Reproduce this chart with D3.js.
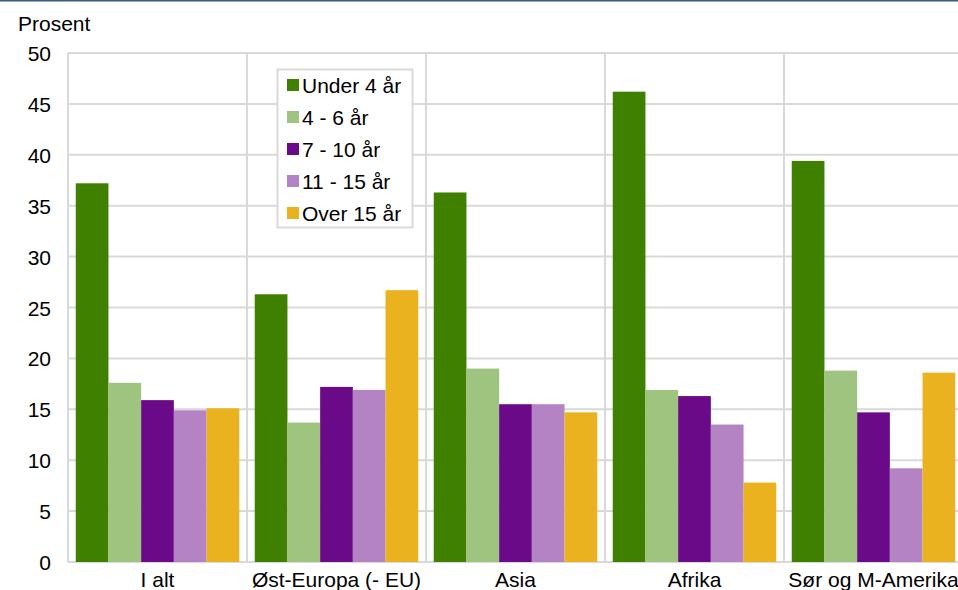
<!DOCTYPE html>
<html>
<head>
<meta charset="utf-8">
<script src="https://cdn.jsdelivr.net/npm/d3@7"></script>
<style>
  html, body { margin: 0; padding: 0; background: #fff; overflow: hidden; }
  svg { display: block; font-family: "Liberation Sans", Arial, sans-serif; }
</style>
</head>
<body>
<script>
const categories = ["I alt", "Øst-Europa (- EU)", "Asia", "Afrika", "Sør og M-Amerika"];
const seriesNames = ["Under 4 år", "4 - 6 år", "7 - 10 år", "11 - 15 år", "Over 15 år"];
const seriesColors = ["#408000", "#9fc480", "#6a0a88", "#b383c3", "#ebb220"];
const under4 = [37.2, 26.3, 36.3, 46.2, 39.4];
const y4to6 = [17.6, 13.7, 19.0, 16.9, 18.8];
const y7to10 = [15.9, 17.2, 15.5, 16.3, 14.7];
const y11to15 = [14.9, 16.9, 15.5, 13.5, 9.2];
const over15 = [15.1, 26.7, 14.7, 7.8, 18.6];
const yTicks = [0, 5, 10, 15, 20, 25, 30, 35, 40, 45, 50];
const yLabel = "Prosent";

const seriesValues = [under4, y4to6, y7to10, y11to15, over15];

const W = 958, H = 590;
const svg = d3.select("body").append("svg").attr("width", W).attr("height", H);

const pLeft = 68, pRight = 963, pTop = 53, pBottom = 562;

const y = d3.scaleLinear().domain([0, 50]).range([pBottom, pTop]);
const x0 = d3.scaleBand().domain(categories).range([pLeft, pRight]).padding(0);
const x1 = d3.scaleBand().domain(seriesNames).range([7.75, x0.bandwidth() - 7.75]).padding(0);

// top rule
svg.append("line").attr("x1", 0).attr("x2", W).attr("y1", 0.7).attr("y2", 0.7)
  .attr("stroke", "#3b5a8a").attr("stroke-width", 1.5);

const gridColor = "#d9d9d9";
// horizontal gridlines
svg.append("g").selectAll("line").data(yTicks).join("line")
  .attr("x1", pLeft).attr("x2", pRight)
  .attr("y1", d => y(d)).attr("y2", d => y(d))
  .attr("stroke", gridColor).attr("stroke-width", 2);

// vertical separators
const seps = categories.map(c => x0(c)).concat([pRight]);
svg.append("g").selectAll("line").data(seps).join("line")
  .attr("x1", d => d).attr("x2", d => d)
  .attr("y1", pTop).attr("y2", pBottom)
  .attr("stroke", gridColor).attr("stroke-width", 2);

// bars
const data = [];
categories.forEach((c, i) => {
  seriesNames.forEach((s, j) => data.push({ c, s, j, v: seriesValues[j][i] }));
});
svg.append("g").selectAll("rect").data(data).join("rect")
  .attr("x", d => x0(d.c) + x1(d.s))
  .attr("width", x1.bandwidth())
  .attr("y", d => y(d.v))
  .attr("height", d => y(0) - y(d.v))
  .attr("fill", d => seriesColors[d.j]);

// y axis labels
const yAxis = d3.axisLeft(y).tickValues(yTicks).tickSize(0).tickPadding(0).tickFormat(d3.format("d"));
const ga = svg.append("g").attr("transform", `translate(51,0)`).call(yAxis);
ga.select(".domain").remove();
ga.selectAll("text").attr("font-size", 21).attr("fill", "#000")
  .attr("font-family", "Liberation Sans, Arial, sans-serif").attr("dy", "0.36em");

// x axis labels
const xAxis = d3.axisBottom(x0).tickSize(0).tickPadding(0);
const gx = svg.append("g").attr("transform", `translate(0,${pBottom})`).call(xAxis);
gx.select(".domain").remove();
gx.selectAll("text").attr("font-size", 21).attr("fill", "#000")
  .attr("font-family", "Liberation Sans, Arial, sans-serif").attr("y", 25).attr("dy", 0);

// y label
svg.append("text").attr("x", 18).attr("y", 31).attr("font-size", 21).attr("fill", "#000")
  .text(yLabel);

// legend
const lg = svg.append("g");
lg.append("rect").attr("x", 277.5).attr("y", 69.5).attr("width", 135).attr("height", 158)
  .attr("fill", "#fff").attr("stroke", gridColor).attr("stroke-width", 2);
const items = lg.selectAll("g.item").data(seriesNames).join("g")
  .attr("transform", (d, i) => `translate(287,${85 + i * 32})`);
items.append("rect").attr("x", 0).attr("y", -6).attr("width", 12).attr("height", 12)
  .attr("fill", (d, i) => seriesColors[i]);
items.append("text").attr("x", 15).attr("y", 0).attr("dy", "0.36em")
  .attr("font-size", 21).attr("fill", "#000").text(d => d);
</script>
</body>
</html>
